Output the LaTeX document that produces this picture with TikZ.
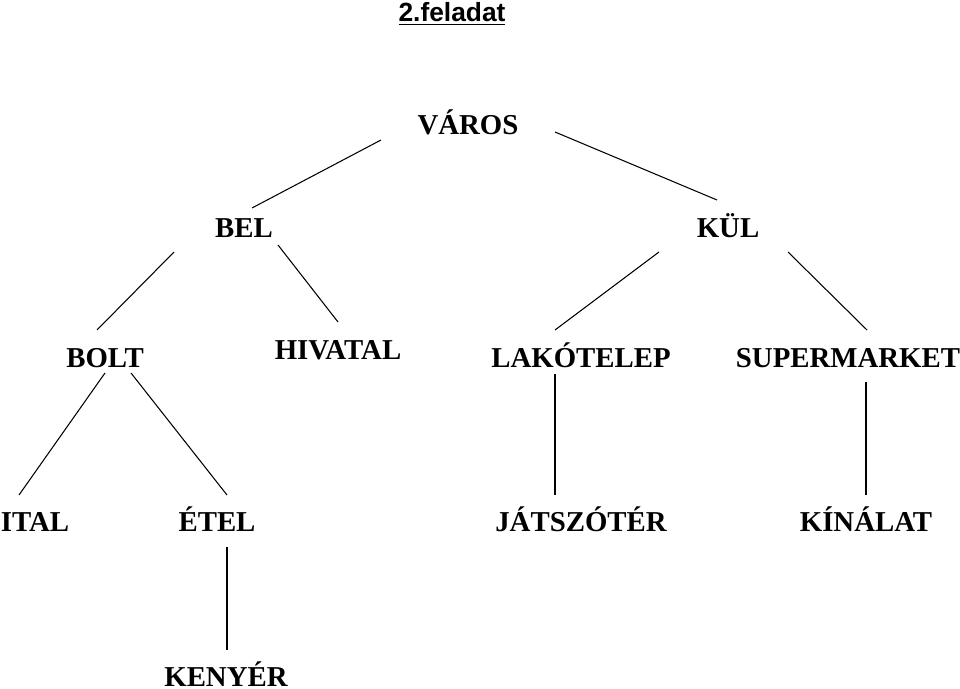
\documentclass[tikz,border=0pt]{standalone}
\usepackage{fontspec}
\setmainfont{Liberation Serif}
\newfontfamily\titlefont{Liberation Sans}
\usetikzlibrary{positioning}
\tikzset{
  word/.style={anchor=base, inner sep=0pt, font=\fontsize{16.4}{18}\selectfont\bfseries},
  ttl/.style={anchor=base, inner sep=0pt, font=\fontsize{15}{17}\selectfont\titlefont\bfseries},
  edge/.style={line width=0.6pt, draw=black},
}

\begin{document}
\begin{tikzpicture}[x=0.02cm, y=-0.02cm]
  \useasboundingbox (0,0) rectangle (960,689);
  % title
  \node[ttl] (title) at (452,22) {\underline{2.feladat}};
  % words
  \node[word] (varos) at (468,135) {VÁROS};
  \node[word] (bel) at (244,237) {BEL};
  \node[word] (kul) at (728,237) {KÜL};
  \node[word] (bolt) at (105,367) {BOLT};
  \node[word] (hiv) at (338,359) {HIVATAL};
  \node[word] (lak) at (581,367) {LAKÓTELEP};
  \node[word] (sup) at (848,367) {SUPERMARKET};
  \node[word] (ital) at (35,531) {ITAL};
  \node[word] (etel) at (217,531) {ÉTEL};
  \node[word] (jat) at (581,531) {JÁTSZÓTÉR};
  \node[word] (kin) at (866,531) {KÍNÁLAT};
  \node[word] (keny) at (226,686) {KENYÉR};
  % line ends
  \coordinate (varos-l) at (381,140);
  \coordinate (varos-r) at (555,132);
  \coordinate (bel-t) at (252,208);
  \coordinate (bel-l) at (174,252);
  \coordinate (bel-r) at (278,245);
  \coordinate (kul-t) at (717,200);
  \coordinate (kul-l) at (659,252);
  \coordinate (kul-r) at (788,252);
  \coordinate (bolt-t) at (97,330);
  \coordinate (bolt-l) at (105,373);
  \coordinate (bolt-r) at (131,373);
  \coordinate (hiv-t) at (338,322);
  \coordinate (lak-t) at (555,330);
  \coordinate (lak-b) at (555,374);
  \coordinate (sup-t) at (867,330);
  \coordinate (sup-b) at (866,382);
  \coordinate (ital-t) at (19,495);
  \coordinate (etel-t) at (227,495);
  \coordinate (etel-b) at (227,547);
  \coordinate (jat-t) at (555,495);
  \coordinate (kin-t) at (866,495);
  \coordinate (keny-t) at (227,650);
  % connectors
  \draw[edge] (varos-l) -- (bel-t);
  \draw[edge] (varos-r) -- (kul-t);
  \draw[edge] (bel-l) -- (bolt-t);
  \draw[edge] (bel-r) -- (hiv-t);
  \draw[edge] (kul-l) -- (lak-t);
  \draw[edge] (kul-r) -- (sup-t);
  \draw[edge] (bolt-l) -- (ital-t);
  \draw[edge] (bolt-r) -- (etel-t);
  \draw[edge] (lak-b) -- (jat-t);
  \draw[edge] (sup-b) -- (kin-t);
  \draw[edge] (etel-b) -- (keny-t);
\end{tikzpicture}
\end{document}
